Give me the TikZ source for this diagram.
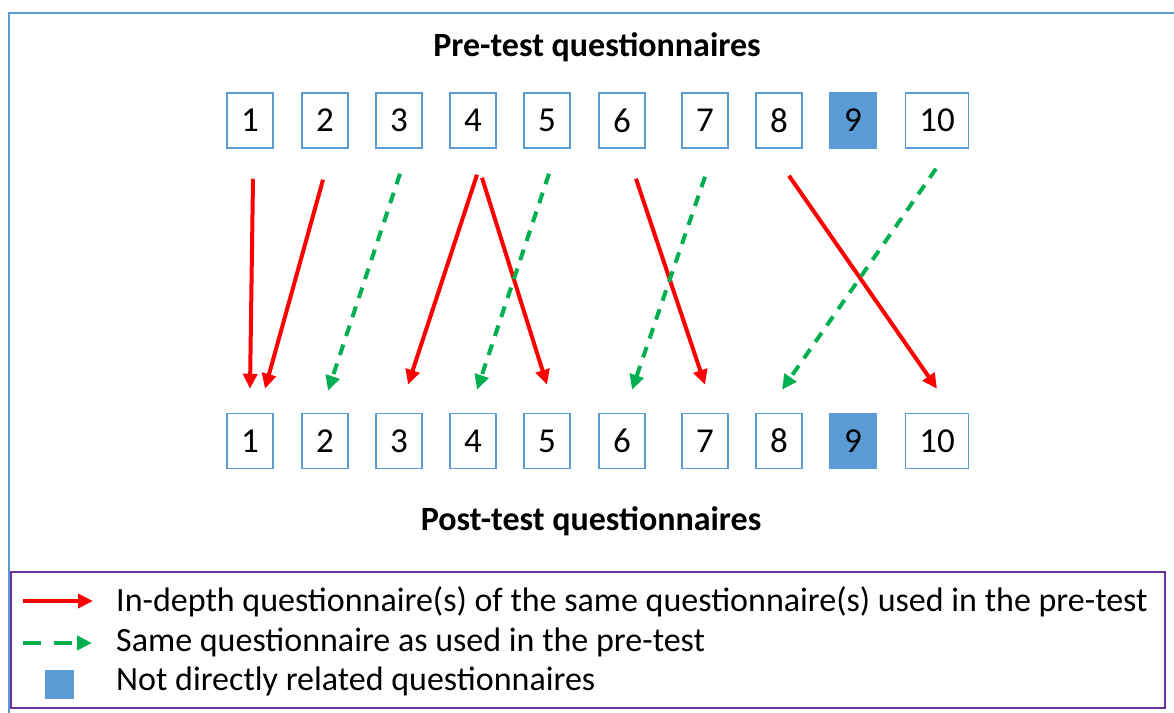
\documentclass[tikz,border=0pt]{standalone}
\usepackage{fontspec}
\setmainfont{Carlito}
\usetikzlibrary{arrows.meta,calc}
\definecolor{boxblue}{HTML}{5B9BD5}
\definecolor{arrred}{HTML}{FF0000}
\definecolor{arrgreen}{HTML}{00B050}
\definecolor{legpurple}{HTML}{7030A0}
\begin{document}
\begin{tikzpicture}[x=1pt,y=-1pt,
 qbox/.style={draw=boxblue,line width=1.5pt,minimum width=46pt,minimum height=55pt,inner sep=0pt,font=\fontsize{35}{42}\selectfont},
 qfill/.style={qbox,fill=boxblue},
 redarr/.style={draw=arrred,line width=4pt,-{Triangle[length=15pt,width=14pt]}},
 greenarr/.style={draw=arrgreen,line width=4pt,dash pattern=on 11pt off 9pt,-{Triangle[length=15pt,width=14pt]}},
 titletext/.style={font=\fontsize{34}{40}\selectfont\bfseries},
 legtext/.style={anchor=base west,inner sep=0pt,font=\fontsize{34}{40}\selectfont}
]
\useasboundingbox (0,0) rectangle (1174,712);
\clip (0,0) rectangle (1174,712);
\draw[boxblue,line width=1.5pt] (9,13) rectangle (1190,730);

\node[titletext] (pretitle) at (597,47) {Pre-test questionnaires};
\node[titletext] (posttitle) at (591,521) {Post-test questionnaires};

\foreach \i/\x in {1/250,2/325,3/399,4/473,5/547,6/622,7/705,8/779} {
  \node[qbox] (t\i) at (\x,120.5) {\i};
  \node[qbox] (b\i) at (\x,441) {\i};
}
\node[qfill] (t9) at (853,120.5) {9};
\node[qfill] (b9) at (853,441) {9};
\node[qbox,minimum width=63pt] (t10) at (937,120.5) {10};
\node[qbox,minimum width=63pt] (b10) at (937,441) {10};

\draw[redarr] ($(t1.south)+(3,30)$) -- ($(b1.north)+(0,-24)$);
\draw[redarr] ($(t2.south)+(-2,31)$) -- ($(b1.north)+(15,-24)$);
\draw[greenarr] ($(t3.south)+(1,25)$) -- ($(b2.north)+(3,-22)$);
\draw[redarr] ($(t4.south)+(4,26)$) -- ($(b3.north)+(9,-28)$);
\draw[redarr] ($(t4.south)+(9,29)$) -- ($(b5.north)+(0,-28)$);
\draw[greenarr] ($(t5.south)+(2,25)$) -- ($(b4.north)+(4,-23)$);
\draw[redarr] ($(t6.south)+(14,30)$) -- ($(b7.north)+(0,-28)$);
\draw[greenarr] ($(t7.south)+(0,28)$) -- ($(b6.north)+(10,-23)$);
\draw[redarr] ($(t8.south)+(10,27)$) -- ($(b10.north)+(0,-24)$);
\draw[greenarr] ($(t10.south)+(-1,20)$) -- ($(b8.north)+(3,-23)$);

\draw[legpurple,line width=1.5pt,fill=white] (11,572) rectangle (1165,708);
\coordinate (lr1) at (23,601);
\coordinate (lr2) at (93,601);
\coordinate (lg1) at (23,643);
\coordinate (lg2) at (92,643);
\draw[redarr] (lr1) -- (lr2);
\draw[greenarr,dash pattern=on 18pt off 13pt] (lg1) -- (lg2);
\node[fill=boxblue,minimum size=29pt,inner sep=0pt] (lsq) at (59.5,684.5) {};
\node[legtext] (l1) at (116,611) {In-depth questionnaire(s) of the same questionnaire(s) used in the pre-test};
\node[legtext] (l2) at (116,651) {Same questionnaire as used in the pre-test};
\node[legtext] (l3) at (116,690) {Not directly related questionnaires};
\end{tikzpicture}
\end{document}
